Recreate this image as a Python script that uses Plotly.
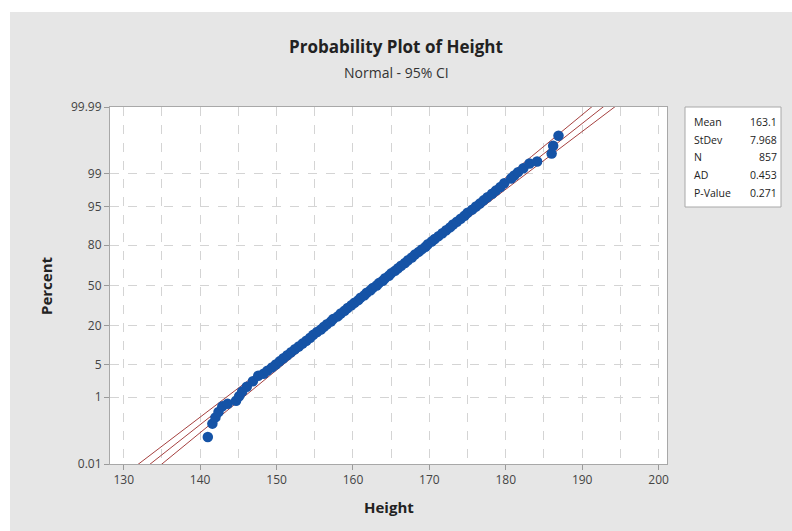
import numpy as np
import plotly.graph_objects as go
from statistics import NormalDist

# ---- data ----
heights = [141.0, 141.6, 142.0, 142.4, 142.9, 143.6, 144.7, 145.1, 145.5, 146.1, 146.9, 147.6,
           148.3, 148.8, 149.4, 149.9, 150.4, 150.9, 151.4, 151.9, 152.4, 152.9, 153.4, 153.9,
           154.4, 154.8, 155.3, 155.8, 156.2, 156.6, 157.1, 157.4, 158.0, 158.4, 158.9, 159.3,
           159.8, 160.2, 160.7, 161.0, 161.5, 161.8, 162.3, 162.6, 163.1, 163.4, 163.9, 164.2,
           164.7, 165.0, 165.5, 165.9, 166.3, 166.8, 167.2, 167.7, 168.1, 168.6, 169.0, 169.5,
           169.8, 170.3, 170.7, 171.2, 171.7, 172.2, 172.7, 173.1, 173.6, 174.1, 174.6, 175.0,
           175.6, 176.1, 176.6, 177.1, 177.6, 178.2, 178.7, 179.3, 179.8, 180.7, 181.1, 181.6,
           182.3, 183.1, 184.1, 186.0, 186.2, 186.9]
percents = [0.08, 0.2, 0.3, 0.42, 0.59, 0.69, 0.82, 1.05, 1.36, 1.75, 2.3, 3.0,
            3.3, 3.8, 4.4, 5.0, 5.7, 6.5, 7.3, 8.2, 9.2, 10.2, 11.3, 12.5,
            13.8, 15.2, 16.6, 18, 19.5, 21, 22.6, 24.2, 26, 28, 30, 32,
            34, 36, 38, 40, 42, 44, 46, 48, 50, 52, 54, 56,
            58, 60, 62, 64, 66, 68, 70, 72, 74, 75.8, 77.4, 79,
            80.5, 82, 83.4, 84.8, 86.2, 87.5, 88.7, 89.8, 90.8, 91.8, 92.7, 93.5,
            94.3, 95.0, 95.6, 96.2, 96.7, 97.2, 97.6, 98.0, 98.34, 98.71, 98.9, 99.09,
            99.27, 99.45, 99.51, 99.70, 99.82, 99.91]

mean_h = 163.1
sd_h = 7.968
n_obs = 857
ad_stat = 0.453
p_value = 0.271

y_tick_labels = ["0.01", "1", "5", "20", "50", "80", "95", "99", "99.99"]
y_tick_pcts = [0.01, 1, 5, 20, 50, 80, 95, 99, 99.99]
x_ticks = [130, 140, 150, 160, 170, 180, 190, 200]

nd = NormalDist()
z_pts = [nd.inv_cdf(p / 100) for p in percents]
z_ticks = [nd.inv_cdf(p / 100) for p in y_tick_pcts]

# fitted normal line and 95% CI
zg = np.linspace(-4.2, 4.2, 300)
center = mean_h + sd_h * zg
se = sd_h * np.sqrt(1 / n_obs + zg ** 2 / (2 * n_obs))
lower = center - 1.96 * se
upper = center + 1.96 * se

W, H = 792, 531
L, R, T, B = 110, 667, 107, 464
def px(x):
    return (x - L) / (R - L)
def py(y):
    return (B - y) / (B - T)

FONT = "Open Sans"
line_col = "#a5403f"
fig = go.Figure()
for xs in (upper, center, lower):
    fig.add_trace(go.Scatter(x=xs, y=zg, mode="lines",
                             line=dict(color=line_col, width=1), hoverinfo="skip"))
fig.add_trace(go.Scatter(x=heights, y=z_pts, mode="markers",
                         marker=dict(color="#1553a6", size=10.5, line=dict(width=0))))

grid_col = "#d4d4d4"
fig.update_layout(
    width=W, height=H,
    margin=dict(l=L, r=W - R, t=T, b=H - B),
    paper_bgcolor="#e6e6e6",
    plot_bgcolor="white",
    showlegend=False,
    font=dict(family=FONT, color="#3a3a3a"),
    xaxis=dict(range=[128.2, 201.1], tickvals=x_ticks, ticks="outside", ticklen=5,
               tickcolor="#9a9a9a", tickfont=dict(size=12, color="#444"),
               showline=True, mirror=True, linecolor="#a8a8a8", linewidth=1,
               showgrid=True, gridcolor=grid_col, griddash="dash", gridwidth=1,
               minor=dict(dtick=5, tick0=130, showgrid=True, gridcolor=grid_col,
                          griddash="dash", ticks=""),
               zeroline=False),
    yaxis=dict(range=[z_ticks[0], z_ticks[-1]], tickvals=z_ticks, ticktext=y_tick_labels,
               ticks="outside", ticklen=5, tickcolor="#9a9a9a",
               tickfont=dict(size=12, color="#444"),
               showline=True, mirror=True, linecolor="#a8a8a8", linewidth=1,
               showgrid=True, gridcolor=grid_col, griddash="dash", gridwidth=1,
               zeroline=False),
)

shapes = [
    dict(type="rect", xref="paper", yref="paper", x0=px(-5), x1=px(W + 5), y0=py(12), y1=py(-5),
         fillcolor="white", line=dict(width=0), layer="below"),
    dict(type="rect", xref="paper", yref="paper", x0=px(-5), x1=px(10), y0=py(H + 5), y1=py(-5),
         fillcolor="white", line=dict(width=0), layer="below"),
    dict(type="rect", xref="paper", yref="paper", x0=px(685), x1=px(781), y0=py(207), y1=py(107),
         fillcolor="white", line=dict(color="#a8a8a8", width=1)),
]
fig.update_layout(shapes=shapes)

ann = [
    dict(text="<b>Probability Plot of Height</b>", x=px(396), y=py(47), font=dict(size=17, color="#222")),
    dict(text="Normal - 95% CI", x=px(396), y=py(73), font=dict(size=14, color="#333")),
    dict(text="<b>Height</b>", x=px(389), y=py(507), font=dict(size=15, color="#222")),
    dict(text="<b>Percent</b>", x=px(46), y=py(286), textangle=-90, font=dict(size=15, color="#222")),
]
stat_labels = ["Mean", "StDev", "N", "AD", "P-Value"]
stat_vals = [f"{mean_h:.1f}", f"{sd_h:.3f}", f"{n_obs}", f"{ad_stat:.3f}", f"{p_value:.3f}"]
for i, (lab, val) in enumerate(zip(stat_labels, stat_vals)):
    yy = py(122 + i * 17.7)
    ann.append(dict(text=lab, x=px(692), y=yy, xanchor="left", font=dict(size=10.5, color="#222")))
    ann.append(dict(text=val, x=px(779), y=yy, xanchor="right", font=dict(size=10.5, color="#222")))
for a in ann:
    a.setdefault("xref", "paper")
    a.setdefault("yref", "paper")
    a.setdefault("showarrow", False)
    a.setdefault("yanchor", "middle")
    a.setdefault("xanchor", "center")
fig.update_layout(annotations=ann)

fig.write_html("out.html")
